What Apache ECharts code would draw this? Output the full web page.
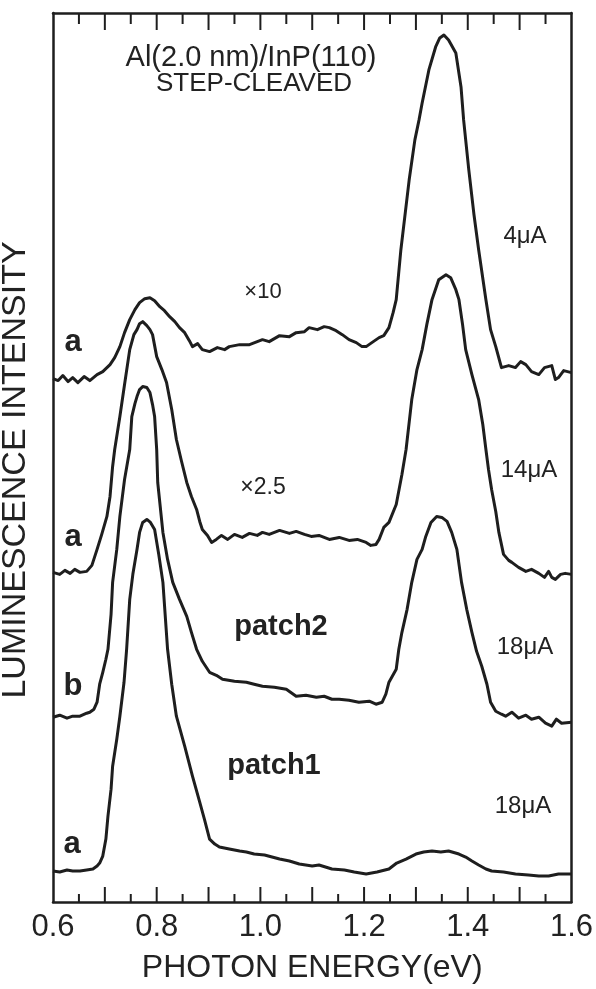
<!DOCTYPE html>
<html>
<head>
<meta charset="utf-8">
<script src="https://cdn.jsdelivr.net/npm/echarts@6/dist/echarts.min.js"></script>
<style>
  html, body { margin: 0; padding: 0; background: #fff; }
  #chart { width: 596px; height: 989px; }
</style>
</head>
<body>
<div id="chart"></div>
<script>
// spectra (energy in eV, intensity in arbitrary offset units)
const energy1 = [0.600,0.610,0.619,0.629,0.638,0.648,0.660,0.671,0.685,0.696,0.710,0.719,0.729,0.738,0.748,0.758,0.767,0.777,0.787,0.796,0.806,0.815,0.825,0.835,0.844,0.854,0.863,0.869,0.879,0.888,0.902,0.917,0.931,0.940,0.960,0.979,1.004,1.017,1.037,1.056,1.069,1.085,1.094,1.110,1.123,1.133,1.146,1.158,1.171,1.185,1.196,1.204,1.215,1.229,1.238,1.248,1.256,1.262,1.271,1.287,1.298,1.306,1.312,1.325,1.338,1.346,1.354,1.363,1.377,1.387,1.392,1.402,1.412,1.421,1.435,1.444,1.454,1.465,1.479,1.492,1.502,1.512,1.523,1.537,1.548,1.562,1.569,1.575,1.585,1.600];
const lum1 = [52.4,52.2,52.7,52.1,52.5,52.0,52.6,52.2,52.8,53.1,53.8,54.5,55.6,57.0,58.3,59.3,60.0,60.4,60.5,60.2,59.6,59.2,58.6,58.1,57.5,57.0,56.2,55.6,55.9,55.3,55.1,55.5,55.3,55.6,55.8,55.8,56.3,56.1,56.7,56.6,57.0,57.1,57.5,57.3,57.6,57.5,57.2,56.8,56.3,56.0,55.6,55.6,56.0,56.5,56.7,57.5,59.0,60.3,65.3,72.3,76.3,78.3,80.0,83.3,85.6,86.5,86.8,86.3,85.0,81.6,78.3,73.3,68.8,65.3,60.3,57.3,55.6,53.5,53.7,53.5,54.1,53.8,53.1,52.8,53.5,53.7,52.3,52.5,53.2,53.0];

const energy2 = [0.600,0.613,0.623,0.633,0.642,0.652,0.665,0.675,0.685,0.694,0.704,0.710,0.715,0.719,0.729,0.738,0.748,0.756,0.762,0.767,0.773,0.781,0.787,0.792,0.800,0.810,0.819,0.829,0.838,0.848,0.858,0.867,0.877,0.883,0.888,0.898,0.906,0.915,0.925,0.937,0.950,0.965,0.979,0.994,1.004,1.017,1.037,1.056,1.069,1.085,1.098,1.113,1.133,1.152,1.171,1.187,1.204,1.213,1.223,1.229,1.238,1.248,1.262,1.273,1.281,1.292,1.302,1.312,1.321,1.331,1.344,1.358,1.367,1.377,1.383,1.390,1.396,1.408,1.421,1.429,1.435,1.440,1.446,1.454,1.460,1.469,1.479,1.485,1.498,1.512,1.523,1.537,1.548,1.556,1.562,1.569,1.579,1.588,1.600];
const lum2 = [33.0,32.8,33.2,32.9,33.3,33.0,33.1,33.7,35.3,36.8,38.6,40.6,43.6,45.3,48.6,51.8,55.3,56.8,57.3,57.9,58.1,57.7,57.3,56.8,54.6,53.3,52.0,49.3,46.3,44.1,42.0,40.6,39.3,38.1,37.3,36.7,36.0,36.3,36.7,36.3,36.8,36.5,36.9,36.7,37.0,36.8,37.2,36.9,37.1,36.8,36.6,36.7,36.3,36.5,36.2,36.3,36.0,35.7,35.8,36.3,37.5,38.0,39.8,42.8,45.3,50.3,53.3,55.3,57.8,60.3,62.3,62.8,62.5,61.3,60.3,57.8,55.3,52.8,50.3,47.8,45.3,43.3,41.3,39.1,37.0,34.8,34.2,34.0,33.5,33.1,33.3,32.9,32.5,33.1,32.5,32.3,32.8,32.9,32.8];

const energy3 = [0.600,0.613,0.627,0.638,0.652,0.665,0.671,0.679,0.685,0.690,0.696,0.702,0.706,0.712,0.715,0.723,0.729,0.738,0.748,0.752,0.758,0.762,0.767,0.773,0.781,0.787,0.792,0.796,0.800,0.802,0.812,0.821,0.831,0.844,0.858,0.867,0.877,0.888,0.902,0.915,0.927,0.950,0.973,0.988,1.004,1.027,1.050,1.069,1.088,1.108,1.123,1.138,1.152,1.171,1.190,1.210,1.223,1.235,1.242,1.248,1.262,1.267,1.273,1.283,1.292,1.302,1.312,1.319,1.329,1.340,1.350,1.360,1.369,1.379,1.388,1.398,1.408,1.417,1.427,1.437,1.444,1.454,1.465,1.473,1.485,1.498,1.512,1.523,1.537,1.550,1.562,1.571,1.581,1.600];
const lum3 = [18.5,18.7,18.4,18.6,18.6,18.9,19.0,19.3,20.0,21.8,23.0,24.3,25.3,28.8,32.0,35.3,38.6,42.3,45.3,48.6,49.9,50.6,51.3,51.6,51.5,51.0,49.8,48.6,45.3,42.0,37.0,34.3,32.0,30.3,28.6,27.0,25.3,24.1,23.0,22.7,22.3,22.1,22.0,21.8,21.6,21.5,21.3,20.6,20.7,20.5,20.6,20.3,20.3,20.2,20.0,20.1,19.8,20.0,20.8,22.0,23.3,25.3,27.0,29.3,32.0,34.3,35.3,36.6,38.0,38.6,38.5,38.1,37.0,35.3,32.0,29.3,27.0,25.1,23.6,21.8,20.0,19.1,18.8,18.6,19.0,18.4,18.7,18.3,18.5,17.9,17.6,18.3,17.9,18.0];

const energy4 = [0.600,0.613,0.627,0.638,0.652,0.665,0.677,0.685,0.690,0.696,0.702,0.706,0.712,0.715,0.723,0.729,0.737,0.742,0.748,0.754,0.762,0.767,0.773,0.781,0.788,0.796,0.804,0.812,0.821,0.829,0.838,0.854,0.869,0.883,0.892,0.902,0.912,0.921,0.940,0.960,0.973,0.988,1.008,1.037,1.056,1.075,1.100,1.113,1.138,1.162,1.181,1.204,1.225,1.248,1.263,1.281,1.300,1.315,1.331,1.348,1.363,1.383,1.396,1.408,1.421,1.435,1.446,1.469,1.492,1.517,1.537,1.556,1.575,1.600];
const lum4 = [3.1,3.0,3.2,3.1,3.1,3.2,3.3,3.6,3.9,4.6,6.3,8.6,11.3,13.6,16.3,18.6,22.0,25.3,30.3,32.8,35.3,37.0,38.0,38.3,38.0,37.3,34.8,32.0,25.3,21.8,18.6,15.6,12.6,10.0,8.3,6.3,5.8,5.5,5.3,5.1,5.0,4.8,4.7,4.3,4.1,3.8,3.6,3.7,3.3,3.2,3.0,2.8,3.0,3.3,3.9,4.3,4.8,5.0,5.1,5.0,5.1,4.8,4.5,4.1,3.7,3.3,3.1,3.0,2.8,2.7,2.6,2.6,2.8,2.8];

const xTickLabels = ['0.6', '0.8', '1.0', '1.2', '1.4', '1.6'];
// tick marks on top and bottom frame (every 0.05 eV, long ones at each 0.1)
const tickEnergies = [0.65, 0.7, 0.75, 0.8, 0.85, 0.9, 0.95, 1.0, 1.05, 1.1, 1.15, 1.2, 1.25, 1.3, 1.35, 1.4, 1.45, 1.5, 1.55];

function pairs(xs, ys) {
  return xs.map((x, i) => [x, ys[i]]);
}

const chart = echarts.init(document.getElementById('chart'));
const ink = '#1e1e1e';
const yMin = 0, yMax = 89;
const frameLine = () => ({ show: true, onZero: false, lineStyle: { color: ink, width: 2.5 } });
const txt = (text, x, y, size, weight) => ({
  type: 'text', x: x, y: y,
  style: {
    text: text,
    font: (weight || 'normal') + ' ' + size + 'px "Liberation Sans", Arial, sans-serif',
    fill: '#222', textAlign: 'center', textVerticalAlign: 'middle'
  }
});

const lineSeries = [pairs(energy1, lum1), pairs(energy2, lum2), pairs(energy3, lum3), pairs(energy4, lum4)].map(d => ({
  type: 'line',
  data: d,
  showSymbol: false,
  lineStyle: { color: ink, width: 3, join: 'round' },
  silent: true
}));

// y axes only draw the left/right sides of the frame
const sideAxis = pos => ({
  type: 'value', min: yMin, max: yMax, position: pos,
  axisLine: frameLine(),
  axisTick: { show: false },
  axisLabel: { show: false },
  splitLine: { show: false }
});

chart.setOption({
  animation: false,
  grid: { left: 53, right: 23, top: 13, bottom: 86 },
  xAxis: [
    {
      type: 'value', min: 0.6, max: 1.6, interval: 0.1, position: 'bottom',
      axisLine: frameLine(),
      axisTick: { show: false },
      splitLine: { show: false },
      axisLabel: {
        show: true, margin: 10, fontSize: 31, color: '#222', fontFamily: '"Liberation Sans", Arial, sans-serif',
        formatter: v => {
          const s = v.toFixed(1);
          return xTickLabels.indexOf(s) >= 0 ? s : '';
        }
      },
      name: 'PHOTON ENERGY(eV)', nameLocation: 'middle', nameGap: 50,
      nameTextStyle: { fontSize: 32, color: '#222', fontFamily: '"Liberation Sans", Arial, sans-serif' }
    },
    {
      type: 'value', min: 0.6, max: 1.6, interval: 0.1, position: 'top',
      axisLine: frameLine(),
      axisTick: { show: false },
      splitLine: { show: false },
      axisLabel: { show: false }
    }
  ],
  yAxis: [sideAxis('left'), sideAxis('right')],
  series: lineSeries
});

// frame ticks, placed through the axis scale
const tickMarks = [];
tickEnergies.forEach(e => {
  const major = Math.round(e * 100) % 10 === 0;
  const b = chart.convertToPixel({ xAxisIndex: 0, yAxisIndex: 0 }, [e, yMin]);
  const t = chart.convertToPixel({ xAxisIndex: 0, yAxisIndex: 0 }, [e, yMax]);
  tickMarks.push({
    type: 'line', z: 50,
    shape: { x1: b[0], y1: b[1], x2: b[0], y2: b[1] - (major ? 15 : 8) },
    style: { stroke: ink, lineWidth: 2 }
  });
  tickMarks.push({
    type: 'line', z: 50,
    shape: { x1: t[0], y1: t[1], x2: t[0], y2: t[1] + (major ? 17 : 11) },
    style: { stroke: ink, lineWidth: 2 }
  });
});

chart.setOption({
  graphic: [
    {
      type: 'text', x: 16, y: 470, rotation: Math.PI / 2,
      style: {
        text: 'LUMINESCENCE INTENSITY',
        font: 'normal 34px "Liberation Sans", Arial, sans-serif',
        fill: '#222', textAlign: 'center', textVerticalAlign: 'middle'
      }
    },
    txt('Al(2.0 nm)/InP(110)', 251, 58, 29),
    txt('STEP-CLEAVED', 254, 84, 26),
    txt('×10', 263, 292, 22),
    txt('×2.5', 263, 488, 23),
    txt('4μA', 525, 236, 24),
    txt('14μA', 529, 470, 24),
    txt('18μA', 525, 647, 24),
    txt('18μA', 523, 806, 24),
    txt('patch2', 281, 627, 29, 'bold'),
    txt('patch1', 274, 766, 29, 'bold'),
    txt('a', 73, 342, 31, 'bold'),
    txt('a', 73, 537, 31, 'bold'),
    txt('b', 73, 686, 31, 'bold'),
    txt('a', 72, 844, 31, 'bold')
  ].concat(tickMarks)
});
</script>
</body>
</html>
